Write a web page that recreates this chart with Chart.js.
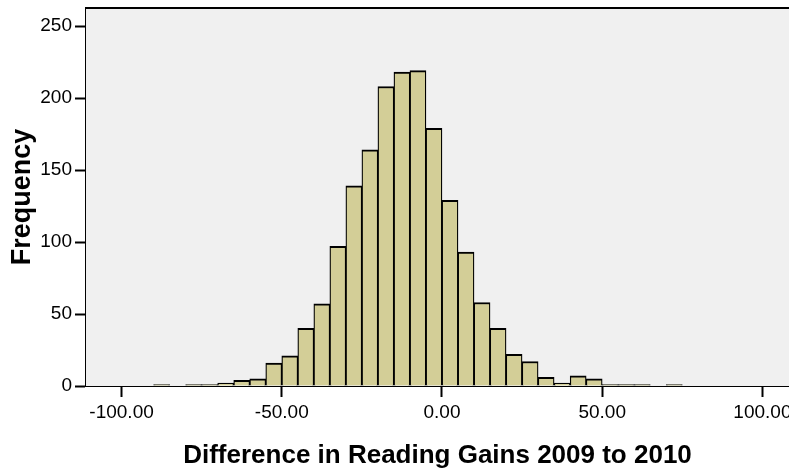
<!DOCTYPE html>
<html>
<head>
<meta charset="utf-8">
<script src="https://cdn.jsdelivr.net/npm/chart.js@4"></script>
<style>
  html, body { margin: 0; padding: 0; background: #ffffff; overflow: hidden; }
  #wrap { width: 789px; height: 470px; position: relative; }
</style>
</head>
<body>
<div id="wrap"><canvas id="canvas1"></canvas></div>
<script>
"use strict";

// bin start of each 5-point bin
const binStarts = [-90, -85, -80, -75, -70, -65, -60, -55, -50, -45, -40, -35, -30, -25, -20, -15, -10, -5,
                   0, 5, 10, 15, 20, 25, 30, 35, 40, 45, 50, 55, 60, 65, 70];
const counts = [1, 0, 1, 1, 2, 4, 5, 16, 21, 40, 57, 97, 139, 164, 208, 218, 219, 179,
                129, 93, 58, 40, 22, 17, 6, 2, 7, 5, 1, 1, 1, 0, 1];
const binWidth = 5;
const xTicks = [-100, -50, 0, 50, 100];
const yTicks = [0, 50, 100, 150, 200, 250];

{
    Chart.defaults.font.family = "'Liberation Sans', Arial, sans-serif";
    Chart.defaults.color = "#000000";

    let canvas1 = document.querySelector("#canvas1");

    // plot background and top frame line
    let frame = {
        id: "frame",
        beforeDatasetsDraw(chart) {
            let a = chart.chartArea;
            let ctx = chart.ctx;
            ctx.save();
            ctx.fillStyle = "#f0f0f0";
            ctx.fillRect(a.left, a.top, a.right - a.left, a.bottom - a.top);
            ctx.restore();
        },
        afterDraw(chart) {
            let a = chart.chartArea;
            let ctx = chart.ctx;
            ctx.save();
            ctx.strokeStyle = "#000000";
            ctx.lineWidth = 2;
            ctx.beginPath();
            ctx.moveTo(a.left - 1, a.top);
            ctx.lineTo(a.right, a.top);
            ctx.stroke();
            ctx.restore();
        }
    };

    let opts = {
        type: "bar",
        data: {
            datasets: [{
                label: "Frequency",
                data: binStarts.map((b, i) => ({ x: b + binWidth / 2, y: counts[i] })),
                backgroundColor: "#d3ce97",
                borderColor: "#000000",
                borderWidth: { top: 2, left: 1.3, right: 1.3, bottom: 0 },
                borderSkipped: "start",
                barPercentage: 1,
                categoryPercentage: 1,
                grouped: false
            }]
        },
        options: {
            responsive: false,
            animation: false,
            layout: { padding: { top: 8, left: 0, right: 0, bottom: 0 } },
            plugins: {
                legend: { display: false },
                tooltip: { enabled: false }
            },
            scales: {
                x: {
                    type: "linear",
                    min: -111.1,
                    max: 108.3,
                    offset: false,
                    z: 1,
                    afterBuildTicks: (s) => { s.ticks = xTicks.map(v => ({ value: v })); },
                    afterFit: (s) => { s.height = 84; s.paddingLeft = 0; s.paddingRight = 0; },
                    grid: { offset: false, drawOnChartArea: false, tickLength: 11, tickWidth: 2, tickColor: "#000000" },
                    border: { display: true, color: "#000000", width: 2 },
                    ticks: {
                        padding: 4,
                        maxRotation: 0,
                        autoSkip: false,
                        font: { size: 19 },
                        callback: (v) => Number(v).toFixed(2)
                    },
                    title: {
                        display: true,
                        text: "Difference in Reading Gains 2009 to 2010",
                        font: { size: 26, weight: "bold", lineHeight: 1 },
                        padding: { top: 0, bottom: 1 }
                    }
                },
                y: {
                    min: 0,
                    max: 262.5,
                    afterBuildTicks: (s) => { s.ticks = yTicks.map(v => ({ value: v })); },
                    afterFit: (s) => { s.width = 86; s.paddingTop = 0; s.paddingBottom = 0; },
                    grid: { drawOnChartArea: false, tickLength: 11, tickWidth: 2, tickColor: "#000000" },
                    border: { display: true, color: "#000000", width: 2 },
                    ticks: { padding: 3, font: { size: 19 } },
                    title: {
                        display: true,
                        text: "Frequency",
                        font: { size: 27, weight: "bold", lineHeight: 1 },
                        padding: { top: 9, bottom: 0 }
                    }
                }
            }
        },
        plugins: [frame]
    };

    canvas1.width = 789;
    canvas1.height = 470;
    let c1 = new Chart(canvas1, opts);
}
</script>
</body>
</html>
